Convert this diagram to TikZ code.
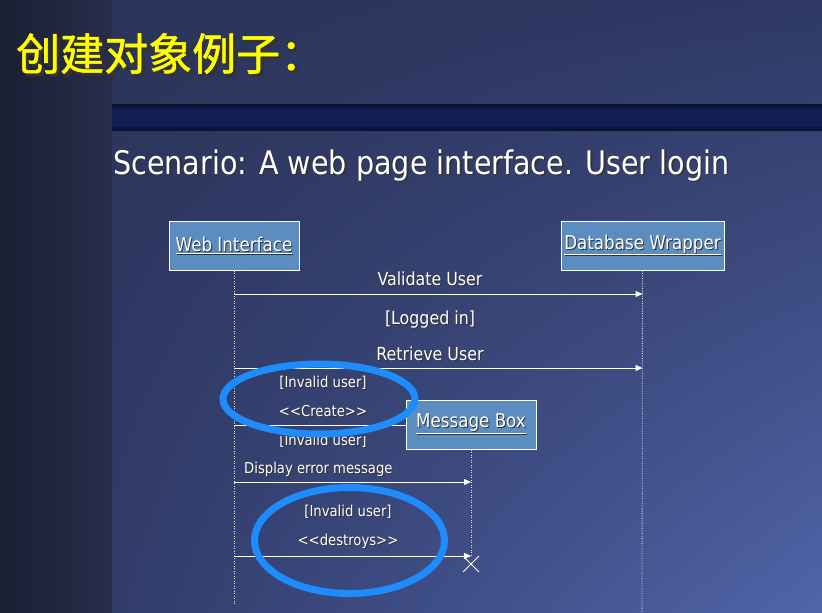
\documentclass[tikz,border=0pt]{standalone}
\usepackage{fontspec}
\setmainfont{DejaVu Sans}[FakeStretch=0.88]
\newfontfamily\cjk{Noto Sans CJK SC}[FakeBold=1.2]
\usepackage{xcolor}
\usetikzlibrary{arrows.meta, positioning, calc, shadings}
\definecolor{stripleft}{RGB}{27, 31, 51}
\definecolor{stripright}{RGB}{40, 45, 76}
\definecolor{slideul}{RGB}{43, 52, 89}
\definecolor{slideur}{RGB}{46, 57, 100}
\definecolor{slidell}{RGB}{49, 60, 106}
\definecolor{slidelr}{RGB}{80, 100, 168}
\definecolor{bandtop}{RGB}{10, 18, 52}
\definecolor{bandmid}{RGB}{18, 30, 84}
\definecolor{bandbot}{RGB}{8, 13, 40}
\definecolor{boxfill}{RGB}{91, 141, 192}
\definecolor{ringblue}{RGB}{30, 140, 250}
\definecolor{titleyellow}{RGB}{255, 255, 0}
\newcommand{\shadowed}[2][1pt]{\leavevmode\rlap{\kern#1\raisebox{-#1}{\color{black!80}#2}}#2}

\begin{document}
\begin{tikzpicture}[
    x=1pt, y=-1pt,
    lifebox/.style={rectangle, draw=white, line width=1pt, fill=boxfill, minimum height=49pt,
        inner sep=0pt, text=white, font=\fontsize{19}{21}\selectfont},
    lifeline/.style={white!80!gray, line width=0.8pt, dash pattern=on 1pt off 1.5pt},
    msg/.style={white, line width=1pt, -{Triangle[length=7pt, width=6pt]}},
    biglbl/.style={text=white, inner sep=0pt, font=\fontsize{18}{20}\selectfont},
    smalllbl/.style={text=white, inner sep=0pt, font=\fontsize{15}{17}\selectfont},
    ring/.style={draw=ringblue, line width=7pt},
]
    % background
    \shade[upper left=slideul, upper right=slideur, lower left=slidell, lower right=slidelr]
        (112,0) rectangle (822,612);
    \shade[left color=stripleft, right color=stripright] (0,0) rectangle (112,612);
    \fill[bandmid] (112,105) rectangle (822,131);
    \shade[top color=bandtop, bottom color=bandmid] (112,105) rectangle (822,110);
    \shade[top color=bandmid, bottom color=bandbot] (112,125) rectangle (822,131);

    % titles
    \node[anchor=west, inner sep=0pt, text=titleyellow, font=\cjk\fontsize{44}{46}\selectfont]
        (title) at (16,55) {\shadowed[3pt]{创建对象例子：}};
    \node[anchor=west, inner sep=0pt, text=white, font=\fontsize{32.5}{34}\selectfont]
        (scenario) at (113,166) {\shadowed[1.5pt]{Scenario: A web page interface. User login}};

    % objects
    \node[lifebox, minimum width=130pt] (web) at (234,245.5) {\shadowed{\underline{Web Interface}}};
    \node[lifebox, minimum width=163pt] (db) at (642.5,245.5) {\shadowed{\underline{Database Wrapper}}};
    \coordinate (webend) at (234,605);
    \coordinate (dbend) at (642,612);
    \draw[lifeline] (web) -- (webend);
    \draw[lifeline] (db) -- (dbend);

    % messages
    \node[biglbl] (validate) at (430,279) {\shadowed{Validate User}};
    \draw[msg] (web |- 0,294) -- (db |- 0,294);
    \node[biglbl] (loggedin) at (430,320) {\shadowed{[Logged in]}};
    \node[biglbl] (retrieve) at (430,354) {\shadowed{Retrieve User}};
    \draw[msg] (web |- 0,368) -- (db |- 0,368);

    \node[smalllbl] (invalid1) at (323,383) {\shadowed{[Invalid user]}};
    \node[smalllbl] (create) at (323,412) {\shadowed{<{}<Create>{}>}};
    \begin{scope}
        \clip (250,436) rectangle (400,455);
        \node[smalllbl] (invalid2) at (323,441) {\shadowed{[Invalid user]}};
    \end{scope}
    \node[lifebox, minimum width=130pt] (msgbox) at (471,424.5) {\shadowed{\underline{Message Box}}};
    \draw[white, line width=1pt] (web |- 0,425) -- (msgbox.west |- 0,425);
    \draw[lifeline] (msgbox) -- (msgbox |- 0,556);

    \node[smalllbl, anchor=west] (display) at (244,470) {\shadowed{Display error message}};
    \draw[msg] (web |- 0,482) -- (msgbox |- 0,482);

    \node[smalllbl] (invalid3) at (348,512) {\shadowed{[Invalid user]}};
    \node[smalllbl] (destroy) at (348,542) {\shadowed{<{}<destroys>{}>}};
    \draw[msg] (web |- 0,556) -- (msgbox |- 0,556);
    \coordinate (xmark) at (471,564);
    \draw[white, line width=1pt] (xmark) +(-8,-8) -- +(8,8) (xmark) +(-8,8) -- +(8,-8);

    % highlights
    \draw[ring] (319,399) ellipse [x radius=96pt, y radius=35pt];
    \draw[ring] (349.5,540.5) ellipse [x radius=95pt, y radius=53pt];
\end{tikzpicture}
\end{document}
